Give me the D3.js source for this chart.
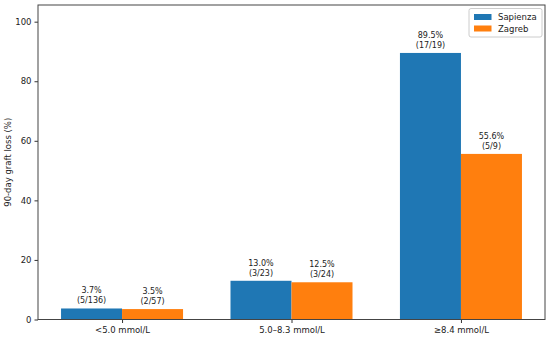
<!DOCTYPE html>
<html>
<head>
<meta charset="utf-8">
<style>
  *{margin:0;padding:0}
  body{background:#fff;width:550px;height:337px;overflow:hidden}
  svg{display:block;font-family:"DejaVu Sans",sans-serif}
</style>
</head>
<body>
<svg id="g"></svg>
<script src="https://cdn.jsdelivr.net/npm/d3@7/dist/d3.min.js"></script>
<script>
// data
const categories = ['<5.0 mmol/L', '5.0\u20138.3 mmol/L', '\u22658.4 mmol/L'];
const series = ['Sapienza', 'Zagreb'];
const sapienza = [3.7, 13.0, 89.5];
const zagreb = [3.5, 12.5, 55.6];
const sapienzaFrac = ['(5/136)', '(3/23)', '(17/19)'];
const zagrebFrac = ['(2/57)', '(3/24)', '(5/9)'];
const yTicks = [0, 20, 40, 60, 80, 100];
const colors = ['#1f77b4', '#ff7f0e'];

const W = 550, H = 337;
const m = {left: 38, right: 5, top: 5, bottom: 17.5};
const BW = 0.36;

const svg = d3.select('#g').attr('width', W).attr('height', H);

const x = d3.scaleLinear().domain([-0.496, 2.496]).range([m.left, W - m.right]);
const y = d3.scaleLinear().domain([0, 105.6]).range([H - m.bottom, m.top]);

const vals = [sapienza, zagreb];
const fracs = [sapienzaFrac, zagrebFrac];

// bars + labels
series.forEach((s, si) => {
  const off = si === 0 ? -BW / 2 : BW / 2;
  const g = svg.append('g');
  g.selectAll('rect').data(vals[si]).enter().append('rect')
    .attr('x', (d, i) => x(i + off - BW / 2))
    .attr('width', x(BW) - x(0))
    .attr('y', d => y(d))
    .attr('height', d => y(0) - y(d))
    .attr('fill', colors[si]);

  const lab = svg.append('g').attr('font-size', 8).attr('fill', '#222').attr('text-anchor', 'middle');
  vals[si].forEach((d, i) => {
    const t = lab.append('text').attr('x', x(i + off)).attr('y', y(d) - 15);
    t.append('tspan').attr('x', x(i + off)).text(d.toFixed(1) + '%');
    t.append('tspan').attr('x', x(i + off)).attr('dy', 10).text(fracs[si][i]);
  });
});

// axes
const yAxis = d3.axisLeft(y).tickValues(yTicks).tickSize(3.5).tickPadding(3);
const ya = svg.append('g').attr('transform', `translate(${m.left},0)`).call(yAxis);
ya.select('.domain').remove();
ya.selectAll('text').attr('font-size', 8.5).attr('fill', '#222').attr('font-family', '"DejaVu Sans",sans-serif');
ya.selectAll('line').attr('stroke', '#333');

const xAxis = d3.axisBottom(x).tickValues([0, 1, 2]).tickFormat(i => categories[i]).tickSize(3.5).tickPadding(3.5);
const xa = svg.append('g').attr('transform', `translate(0,${H - m.bottom})`).call(xAxis);
xa.select('.domain').remove();
xa.selectAll('text').attr('font-size', 8.5).attr('fill', '#222').attr('font-family', '"DejaVu Sans",sans-serif');
xa.selectAll('line').attr('stroke', '#333');

// frame
svg.append('rect')
  .attr('x', m.left).attr('y', m.top)
  .attr('width', W - m.right - m.left).attr('height', H - m.bottom - m.top)
  .attr('fill', 'none').attr('stroke', '#444').attr('stroke-width', 1);

// y label
svg.append('text')
  .attr('transform', `translate(11,${(m.top + H - m.bottom) / 2}) rotate(-90)`)
  .attr('text-anchor', 'middle').attr('font-size', 8.5).attr('fill', '#222')
  .text('90-day graft loss (%)');

// legend
const lg = svg.append('g').attr('transform', 'translate(469,8.5)');
lg.append('rect').attr('width', 73).attr('height', 28.5).attr('rx', 2)
  .attr('fill', '#fff').attr('stroke', '#ccc');
series.forEach((s, i) => {
  lg.append('rect').attr('x', 5).attr('y', 5.5 + i * 11.5).attr('width', 17.5).attr('height', 6).attr('fill', colors[i]);
  lg.append('text').attr('x', 29).attr('y', 11.5 + i * 11.5).attr('font-size', 8.5).attr('fill', '#222').text(s);
});
</script>
</body>
</html>
